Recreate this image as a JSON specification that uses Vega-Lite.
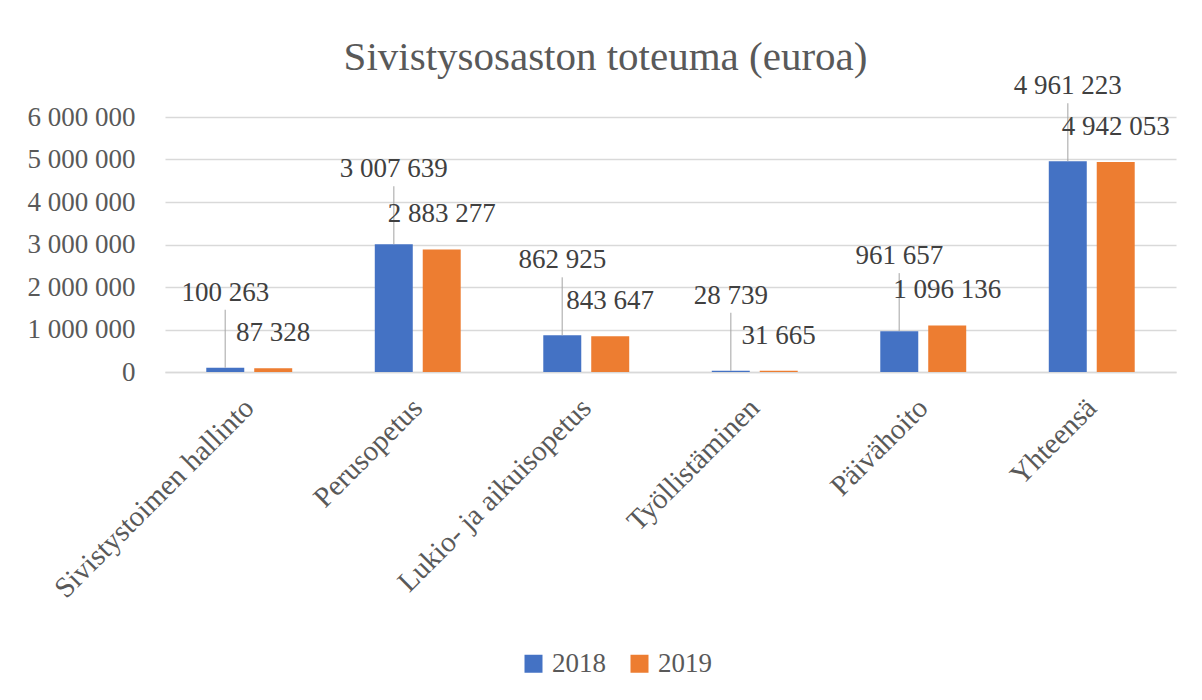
{
  "$schema": "https://vega.github.io/schema/vega-lite/v6.json",
  "width": 1011,
  "height": 255,
  "autosize": {"type": "none"},
  "padding": {"left": 165, "top": 117, "right": 26, "bottom": 328},
  "background": "white",
  "config": {
    "locale": {"number": {"decimal": ",", "thousands": " ", "grouping": [3], "currency": ["", " €"]}},
    "font": "Liberation Serif",
    "view": {"stroke": null}
  },
  "title": {
    "text": "Sivistysosaston toteuma (euroa)",
    "font": "Liberation Serif",
    "fontSize": 41,
    "fontWeight": "normal",
    "color": "#595959",
    "anchor": "middle",
    "baseline": "alphabetic",
    "offset": -39,
    "dx": -65
  },
  "data": {
    "values": [
      {"category": "Sivistystoimen hallinto", "year": "2018", "value": 100263},
      {"category": "Sivistystoimen hallinto", "year": "2019", "value": 87328},
      {"category": "Perusopetus", "year": "2018", "value": 3007639},
      {"category": "Perusopetus", "year": "2019", "value": 2883277},
      {"category": "Lukio- ja aikuisopetus", "year": "2018", "value": 862925},
      {"category": "Lukio- ja aikuisopetus", "year": "2019", "value": 843647},
      {"category": "Työllistäminen", "year": "2018", "value": 28739},
      {"category": "Työllistäminen", "year": "2019", "value": 31665},
      {"category": "Päivähoito", "year": "2018", "value": 961657},
      {"category": "Päivähoito", "year": "2019", "value": 1096136},
      {"category": "Yhteensä", "year": "2018", "value": 4961223},
      {"category": "Yhteensä", "year": "2019", "value": 4942053}
    ]
  },
  "encoding": {
    "x": {
      "field": "category",
      "type": "nominal",
      "sort": null,
      "scale": {"paddingInner": 0.49, "paddingOuter": 0.245},
      "axis": {
        "title": null,
        "labelAngle": -45,
        "labelAlign": "right",
        "labelBaseline": "middle",
        "labelPadding": 31,
        "labelFontSize": 29,
        "labelLimit": 0,
        "labelColor": "#595959",
        "labelFont": "Liberation Serif",
        "ticks": false,
        "domainColor": "#d9d9d9",
        "domainWidth": 1.5,
        "grid": false
      }
    },
    "xOffset": {"field": "year", "scale": {"paddingInner": 0.208, "paddingOuter": 0}},
    "y": {
      "field": "value",
      "type": "quantitative",
      "scale": {"domain": [0, 6000000], "nice": false},
      "axis": {
        "title": null,
        "values": [0, 1000000, 2000000, 3000000, 4000000, 5000000, 6000000],
        "format": ",d",
        "labelFontSize": 27,
        "labelColor": "#595959",
        "labelFont": "Liberation Serif",
        "labelPadding": 30,
        "ticks": false,
        "domain": false,
        "gridColor": "#d9d9d9",
        "gridWidth": 1.5
      }
    }
  },
  "layer": [
    {
      "mark": {"type": "bar"},
      "encoding": {
        "color": {
          "field": "year",
          "type": "nominal",
          "scale": {"domain": ["2018", "2019"], "range": ["#4472C4", "#ED7D31"]},
          "legend": {
            "title": null,
            "orient": "none",
            "direction": "horizontal",
            "legendX": 355,
            "legendY": 533,
            "padding": 0,
            "symbolType": "square",
            "symbolSize": 324,
            "symbolStrokeWidth": 0,
            "labelFontSize": 27,
            "labelFont": "Liberation Serif",
            "labelColor": "#595959",
            "labelOffset": 5,
            "columnPadding": 20
          }
        }
      }
    },
    {
      "transform": [{"filter": "datum.year == '2018'"}],
      "mark": {"type": "tick", "orient": "vertical", "size": 58, "thickness": 1.5, "color": "#a6a6a6", "yOffset": -29},
      "encoding": {}
    },
    {
      "transform": [{"filter": "datum.year == '2018'"}],
      "mark": {"type": "text", "baseline": "middle", "align": "center", "dy": -75, "fontSize": 27, "font": "Liberation Serif", "color": "#404040"},
      "encoding": {"text": {"field": "value", "type": "quantitative", "format": ",d"}}
    },
    {
      "transform": [{"filter": "datum.year == '2019'"}],
      "mark": {"type": "text", "baseline": "middle", "align": "center", "dy": -35, "fontSize": 27, "font": "Liberation Serif", "color": "#404040"},
      "encoding": {"text": {"field": "value", "type": "quantitative", "format": ",d"}}
    }
  ]
}
